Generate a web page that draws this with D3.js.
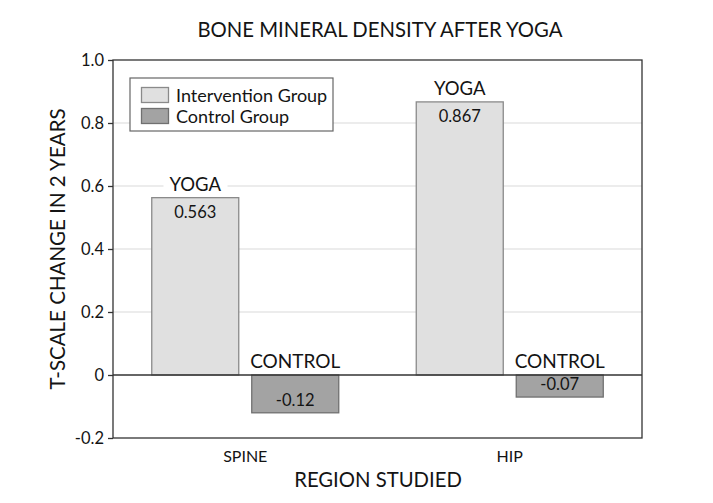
<!DOCTYPE html>
<html><head><meta charset="utf-8">
<script src="https://cdn.jsdelivr.net/npm/d3@7"></script>
<style>body{margin:0;background:#fff}svg{display:block}text{font-family:Lato,"Open Sans",sans-serif;fill:#141414}</style>
</head><body>
<svg id="c" width="713" height="503"></svg>
<script>
const regions = ["SPINE", "HIP"];
const groups = ["Intervention Group", "Control Group"];
const barLabels = ["YOGA", "CONTROL"];
const intervention = [0.563, 0.867];
const control = [-0.12, -0.07];
const valueText = [["0.563", "-0.12"], ["0.867", "-0.07"]];
const yTicks = [-0.2, 0, 0.2, 0.4, 0.6, 0.8, 1.0];
const yTickLabels = ["-0.2", "0", "0.2", "0.4", "0.6", "0.8", "1.0"];

const svg = d3.select("#c");
const L = 113, R = 642, T = 60, B = 438;
const fills = ["#e0e0e0", "#a3a3a3"];
const strokes = ["#8a8a8a", "#707070"];

const y = d3.scaleLinear().domain([-0.2, 1.0]).range([B, T]);
const x0 = d3.scaleBand().domain(regions).range([L, R]).paddingInner(0.293).paddingOuter(0.1465);
const x1 = d3.scaleBand().domain(groups).range([0, x0.bandwidth()]).paddingInner(0.13).paddingOuter(0);

// gridlines
svg.append("g").selectAll("line").data(yTicks.filter(d => d > 0 && d < 1))
  .join("line").attr("x1", L).attr("x2", R).attr("y1", d => y(d)).attr("y2", d => y(d))
  .attr("stroke", "#e6e6e6").attr("stroke-width", 1.5);

// title
svg.append("text").attr("x", 380).attr("y", 37).attr("text-anchor", "middle")
  .attr("font-size", 20.3).text("BONE MINERAL DENSITY AFTER YOGA");

// data rows
const rows = regions.map((r, i) => ({region: r, vals: [intervention[i], control[i]], txt: valueText[i]}));

const g = svg.append("g").selectAll("g").data(rows).join("g")
  .attr("transform", d => `translate(${x0(d.region)},0)`);

g.each(function(d) {
  const sel = d3.select(this);
  d.vals.forEach((v, j) => {
    const bx = x1(groups[j]);
    const bw = x1.bandwidth();
    const top = y(Math.max(0, v)), bot = y(Math.min(0, v));
    sel.append("rect").attr("x", bx).attr("y", top).attr("width", bw).attr("height", bot - top)
      .attr("fill", fills[j]).attr("stroke", strokes[j]).attr("stroke-width", 1.3);
    const lbl = barLabels[j];
    const ly = (v >= 0 ? y(v) : y(0)) - 7;
    const t = sel.append("text").attr("x", bx + bw / 2).attr("y", ly).attr("text-anchor", "middle")
      .attr("font-size", j === 0 ? 18.5 : 19).text(lbl);
    const bb = t.node().getBBox();
    sel.insert("rect", "text").attr("x", bb.x - 6).attr("y", bb.y).attr("width", bb.width + 12)
      .attr("height", bb.height).attr("fill", "#fff");
    t.raise();
    const vy = v >= 0 ? y(v) + 20 : y(v) - 7;
    sel.append("text").attr("x", bx + bw / 2).attr("y", vy).attr("text-anchor", "middle")
      .attr("font-size", 16.5).text(d.txt[j]);
  });
});

// zero line
svg.append("line").attr("x1", L).attr("x2", R).attr("y1", y(0)).attr("y2", y(0))
  .attr("stroke", "#333").attr("stroke-width", 1.3);

// frame
svg.append("rect").attr("x", L).attr("y", T).attr("width", R - L).attr("height", B - T)
  .attr("fill", "none").attr("stroke", "#333").attr("stroke-width", 1.3);

// y axis
const yAxis = d3.axisLeft(y).tickValues(yTicks).tickFormat((d, i) => yTickLabels[i]).tickSize(5).tickPadding(4);
const ya = svg.append("g").attr("transform", `translate(${L},0)`).call(yAxis);
ya.select(".domain").remove();
ya.selectAll("line").attr("stroke", "#333").attr("stroke-width", 1.3);
ya.selectAll("text").attr("font-size", 16.5).attr("font-family", "Lato,'Open Sans',sans-serif").attr("fill", "#141414");

// x labels
svg.append("g").selectAll("text").data(regions).join("text")
  .attr("x", d => x0(d) + x0.bandwidth() / 2).attr("y", 462).attr("text-anchor", "middle")
  .attr("font-size", 16).text(d => d);

svg.append("text").attr("x", 378).attr("y", 487).attr("text-anchor", "middle")
  .attr("font-size", 20.3).text("REGION STUDIED");

svg.append("text").attr("transform", "translate(65,249) rotate(-90)").attr("text-anchor", "middle")
  .attr("font-size", 20.5).text("T-SCALE CHANGE IN 2 YEARS");

// legend
const lg = svg.append("g");
lg.append("rect").attr("x", 130).attr("y", 78).attr("width", 203).attr("height", 53)
  .attr("fill", "#fff").attr("stroke", "#666").attr("stroke-width", 1.2);
groups.forEach((gname, j) => {
  lg.append("rect").attr("x", 141.5).attr("y", 87.5 + j * 21).attr("width", 27).attr("height", 15)
    .attr("fill", fills[j]).attr("stroke", strokes[j]).attr("stroke-width", 1.3);
  lg.append("text").attr("x", 176).attr("y", 101.5 + j * 21).attr("font-size", 18).text(gname);
});
</script>
</body></html>
